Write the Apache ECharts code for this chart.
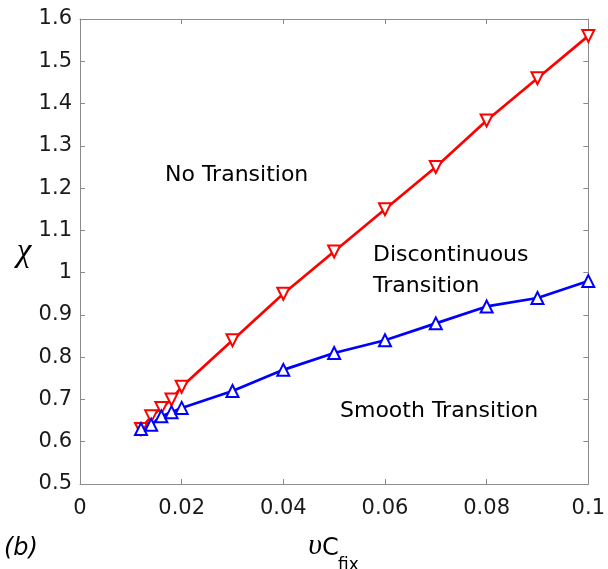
<!DOCTYPE html>
<html>
<head>
<meta charset="utf-8">
<script src="https://cdn.jsdelivr.net/npm/echarts@6/dist/echarts.min.js"></script>
<style>
html,body{margin:0;padding:0;background:#fff;}
#chart{width:608px;height:569px;}
</style>
</head>
<body>
<div id="chart"></div>
<script>
// Data
var xValues = [0.012, 0.014, 0.016, 0.018, 0.02, 0.03, 0.04, 0.05, 0.06, 0.07, 0.08, 0.09, 0.1];
var discontinuousLine = [0.63, 0.66, 0.68, 0.70, 0.73, 0.84, 0.95, 1.05, 1.15, 1.25, 1.36, 1.46, 1.56];
var smoothLine = [0.63, 0.64, 0.66, 0.67, 0.68, 0.72, 0.77, 0.81, 0.84, 0.88, 0.92, 0.94, 0.98];
var xTicks = [0, 0.02, 0.04, 0.06, 0.08, 0.1];
var yTicks = [0.5, 0.6, 0.7, 0.8, 0.9, 1, 1.1, 1.2, 1.3, 1.4, 1.5, 1.6];

function pairs(xs, ys) { return xs.map(function (x, i) { return [x, ys[i]]; }); }

var axisColor = '#8c8c8c';
var labelFont = 'DejaVu Sans';
var chart = echarts.init(document.getElementById('chart'));

function baseX(pos, show) {
  return {
    type: 'value', position: pos, min: xTicks[0], max: xTicks[xTicks.length - 1], interval: 0.02,
    axisLine: { show: true, onZero: false, lineStyle: { color: axisColor, width: 1 } },
    axisTick: { show: true, inside: true, length: 5, lineStyle: { color: axisColor } },
    axisLabel: { show: show, color: '#1a1a1a', fontFamily: labelFont, fontSize: 21, margin: 14 },
    splitLine: { show: false }
  };
}
function baseY(pos, show) {
  return {
    type: 'value', position: pos, min: yTicks[0], max: yTicks[yTicks.length - 1], interval: 0.1,
    axisLine: { show: true, onZero: false, lineStyle: { color: axisColor, width: 1 } },
    axisTick: { show: true, inside: true, length: 5, lineStyle: { color: axisColor } },
    axisLabel: { show: show, color: '#1a1a1a', fontFamily: labelFont, fontSize: 21, margin: 8, padding: [6, 0, 0, 0] },
    splitLine: { show: false }
  };
}

var option = {
  animation: false,
  backgroundColor: '#fff',
  grid: { left: 80, right: 16, top: 19, bottom: 85, containLabel: false },
  xAxis: [baseX('bottom', true), baseX('top', false)],
  yAxis: [baseY('left', true), baseY('right', false)],
  series: [
    {
      type: 'line', name: 'Discontinuous boundary', xAxisIndex: 0, yAxisIndex: 0,
      data: pairs(xValues, discontinuousLine),
      symbol: 'emptyTriangle', symbolSize: 12, symbolRotate: 180,
      lineStyle: { color: '#ff0000', width: 2.7 },
      itemStyle: { color: '#ff0000', borderColor: '#ff0000', borderWidth: 2 }
    },
    {
      type: 'line', name: 'Smooth boundary', xAxisIndex: 0, yAxisIndex: 0,
      data: pairs(xValues, smoothLine),
      symbol: 'emptyTriangle', symbolSize: 12,
      lineStyle: { color: '#0000ff', width: 2.7 },
      itemStyle: { color: '#0000ff', borderColor: '#0000ff', borderWidth: 2 }
    }
  ],
  graphic: [
    { type: 'text', x: 165, y: 175, style: { text: 'No Transition', font: '22px "DejaVu Sans"', fill: '#000', align: 'left', verticalAlign: 'middle' } },
    { type: 'text', x: 373, y: 255, style: { text: 'Discontinuous', font: '22px "DejaVu Sans"', fill: '#000', align: 'left', verticalAlign: 'middle' } },
    { type: 'text', x: 373, y: 286, style: { text: 'Transition', font: '22px "DejaVu Sans"', fill: '#000', align: 'left', verticalAlign: 'middle' } },
    { type: 'text', x: 340, y: 411, style: { text: 'Smooth Transition', font: '22px "DejaVu Sans"', fill: '#000', align: 'left', verticalAlign: 'middle' } },
    { type: 'text', x: 24, y: 252, style: { text: 'χ', font: 'italic 33px "Liberation Serif"', fill: '#000', align: 'center', verticalAlign: 'middle' } },
    { type: 'text', x: 322, y: 546, style: { text: 'υ', font: 'italic 30px "Liberation Serif"', fill: '#000', align: 'right', verticalAlign: 'middle' } },
    { type: 'text', x: 322, y: 549, style: { text: 'C', font: '24px "DejaVu Sans"', fill: '#000', align: 'left', verticalAlign: 'middle' } },
    { type: 'text', x: 338, y: 566, style: { text: 'fix', font: '17px "DejaVu Sans"', fill: '#000', align: 'left', verticalAlign: 'middle' } },
    { type: 'text', x: 4, y: 549, style: { text: '(b)', font: 'italic 24px "DejaVu Sans"', fill: '#000', align: 'left', verticalAlign: 'middle' } }
  ]
};
chart.setOption(option);
</script>
</body>
</html>
